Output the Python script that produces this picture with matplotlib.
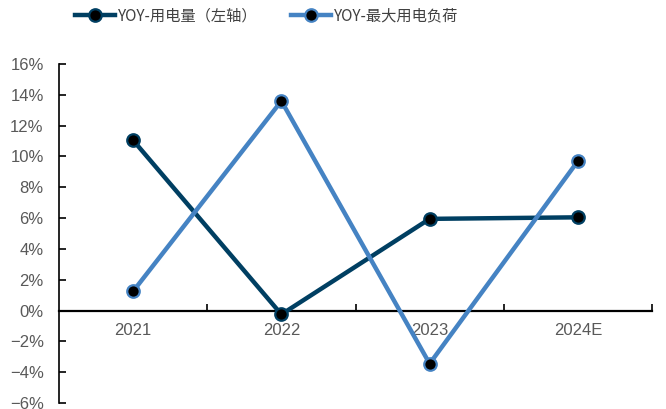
import matplotlib
matplotlib.use("Agg")
import matplotlib.pyplot as plt
from matplotlib.ticker import FuncFormatter, FixedLocator

plt.rcParams["font.family"] = ["Noto Sans CJK SC", "DejaVu Sans"]
plt.rcParams["axes.unicode_minus"] = True

# year-over-year growth, %
YEARS = ["2021", "2022", "2023", "2024E"]
POWER_USE = [11.05, -0.25, 5.95, 6.05]
PEAK_LOAD = [1.25, 13.6, -3.45, 9.7]

DARK, LIGHT = "#003f62", "#4583c3"
TXT = "#595959"

fig = plt.figure(figsize=(6.66, 4.09), dpi=100)
ax = fig.add_axes([0.0886, 0.0147, 0.8904, 0.8288])

# x axis line runs through zero
ax.spines["bottom"].set_position(("data", 0))
ax.spines["bottom"].set_linewidth(1.6)
ax.spines["left"].set_linewidth(1.2)
ax.spines["top"].set_visible(False)
ax.spines["right"].set_visible(False)

x = range(len(YEARS))
ax.plot(x, POWER_USE, "-o", color=DARK, lw=3.2, ms=9, mfc="black", mec=DARK,
        mew=1.6, label="YOY-用电量（左轴）", zorder=3)
ax.plot(x, PEAK_LOAD, "-o", color=LIGHT, lw=3.2, ms=9, mfc="black", mec=LIGHT,
        mew=1.6, label="YOY-最大用电负荷", zorder=3)

ax.set_xlim(-0.5, len(YEARS) - 0.5)
ax.set_ylim(-6, 16)
ax.set_yticks(range(-6, 17, 2))
ax.yaxis.set_major_formatter(FuncFormatter(lambda v, _: f"{v:.0f}%".replace("-", "\u2212")))

ax.set_xticks(list(x))
ax.set_xticklabels(YEARS)
ax.xaxis.set_minor_locator(FixedLocator([i + 0.5 for i in range(len(YEARS))]))
ax.tick_params(axis="x", which="major", length=0, pad=9)
ax.tick_params(axis="x", which="minor", direction="in", length=5, width=1.2, color="black")
ax.tick_params(axis="y", direction="in", length=5, width=1.2, pad=11)
ax.tick_params(axis="both", which="major", labelsize=12, labelcolor=TXT,
               labelfontfamily="Liberation Sans")

leg = fig.legend(loc="upper center", bbox_to_anchor=(0.40, 1.015), ncol=2, frameon=False,
                 fontsize=11, handlelength=2.6, columnspacing=2.2, handletextpad=0.2)
for t in leg.get_texts():
    t.set_color("#404040")

fig.savefig("out.png", dpi=100)
